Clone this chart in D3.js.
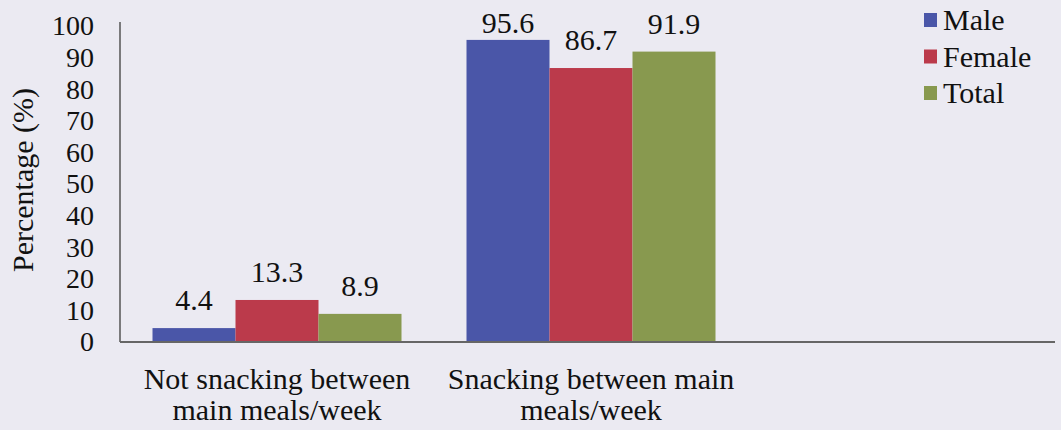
<!DOCTYPE html>
<html>
<head>
<meta charset="utf-8">
<script src="https://cdn.jsdelivr.net/npm/d3@7/dist/d3.min.js"></script>
<style>
  html, body { margin: 0; padding: 0; background: #ebeaf2; }
  svg { display: block; }
</style>
</head>
<body>
<svg id="chart" width="1061" height="430"></svg>
<script>
const categories = [
  ["Not snacking between", "main meals/week"],
  ["Snacking between main", "meals/week"]
];
const seriesNames = ["Male", "Female", "Total"];
const male = [4.4, 95.6];
const female = [13.3, 86.7];
const total = [8.9, 91.9];
const yTicks = [0, 10, 20, 30, 40, 50, 60, 70, 80, 90, 100];
const colors = ["#4a56a8", "#bb3a4b", "#88994f"];

(function () {
const FONT = "Liberation Serif";
const series = [male, female, total];
const svg = d3.select("#chart");

const mLeft = 120, mRight = 1055, mTop = 22, mBase = 342;
const catKeys = categories.map((c, i) => "c" + i);

const x0 = d3.scaleBand().domain(catKeys).range([mLeft, mLeft + 628])
  .paddingInner(0.207).paddingOuter(0.1035);
const x1 = d3.scaleBand().domain(seriesNames).range([0, x0.bandwidth()]);
const y = d3.scaleLinear().domain([0, 100]).range([mBase, 26]);

function txt(sel, size) {
  return sel.attr("font-family", FONT).attr("font-size", size).attr("fill", "#111");
}

// bars
const g = svg.append("g");
catKeys.forEach((k, ci) => {
  seriesNames.forEach((s, si) => {
    const v = series[si][ci];
    g.append("rect")
      .attr("x", x0(k) + x1(s))
      .attr("y", y(v))
      .attr("width", x1.bandwidth())
      .attr("height", y(0) - y(v))
      .attr("fill", colors[si]);
    txt(g.append("text"), 30)
      .attr("x", x0(k) + x1(s) + x1.bandwidth() / 2)
      .attr("y", Math.max(33, y(v) - 18))
      .attr("text-anchor", "middle")
      .text(v.toFixed(1));
  });
});

// y axis
const yAxis = d3.axisLeft(y).tickValues(yTicks).tickSize(0).tickPadding(26);
const ya = svg.append("g").attr("transform", `translate(${mLeft},0)`).call(yAxis);
ya.attr("font-family", FONT).attr("font-size", 28);
ya.select(".domain").remove();
ya.selectAll("text").attr("fill", "#111");

svg.append("line").attr("x1", mLeft).attr("x2", mLeft).attr("y1", mTop).attr("y2", mBase)
  .attr("stroke", "#555").attr("stroke-width", 1.5);
svg.append("line").attr("x1", mLeft).attr("x2", mRight).attr("y1", mBase).attr("y2", mBase)
  .attr("stroke", "#666").attr("stroke-width", 2);

// category labels
catKeys.forEach((k, ci) => {
  const cx = x0(k) + x0.bandwidth() / 2;
  const t = txt(svg.append("text"), 30)
    .attr("x", cx)
    .attr("y", 389)
    .attr("text-anchor", "middle");
  categories[ci].forEach((line, li) => {
    t.append("tspan").attr("x", cx)
      .attr("dy", li === 0 ? 0 : 31).text(line);
  });
});

// y label
txt(svg.append("text"), 30)
  .attr("transform", "translate(33,180) rotate(-90)")
  .attr("text-anchor", "middle")
  .text("Percentage (%)");

// legend
seriesNames.forEach((s, i) => {
  const by = 30 + i * 36.5;
  svg.append("rect").attr("x", 924).attr("y", by - 17).attr("width", 13).attr("height", 14)
    .attr("fill", colors[i]);
  txt(svg.append("text"), 30).attr("x", 943).attr("y", by).text(s);
});
})();
</script>
</body>
</html>
